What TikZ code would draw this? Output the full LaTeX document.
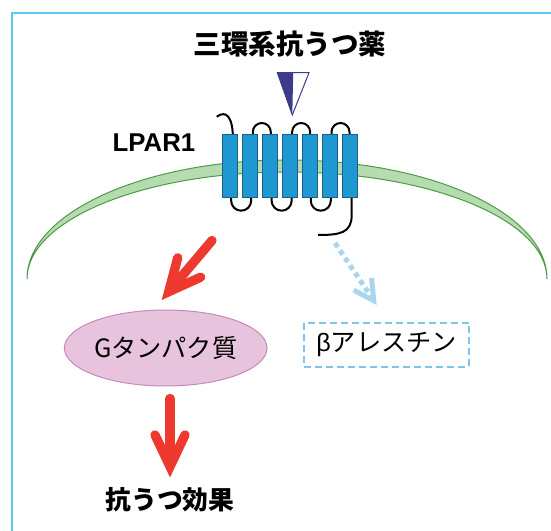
\documentclass[tikz,border=0pt]{standalone}
\usepackage{fontspec}
\setmainfont{Liberation Sans}
\newfontfamily\jp{Noto Sans CJK JP}
\usetikzlibrary{arrows.meta,shapes.geometric}

\definecolor{framecol}{RGB}{90,200,240}
\definecolor{memfill}{RGB}{181,220,174}
\definecolor{memedge}{RGB}{78,154,72}
\definecolor{tmblue}{RGB}{31,152,210}
\definecolor{tmedge}{RGB}{26,95,138}
\definecolor{drugdark}{RGB}{62,58,140}
\definecolor{sigred}{RGB}{238,58,46}
\definecolor{arrblue}{RGB}{169,213,239}
\definecolor{boxblue}{RGB}{127,196,234}
\definecolor{gpfill}{RGB}{232,195,222}
\definecolor{gpedge}{RGB}{197,138,185}

\tikzset{
  tmbox/.style={draw=tmedge, fill=tmblue, line width=0.3mm, inner sep=0,
    minimum width=4.5mm, minimum height=19mm},
  loopline/.style={black, line width=0.6mm},
  sigarrow/.style={sigred, line width=2.8mm, line cap=round,
    -{Straight Barb[length=9.5mm, width=9mm, line cap=round, line join=miter]}},
  betaarrow/.style={arrblue, line width=1.5mm, dash pattern=on 1.5mm off 1.2mm,
    -{Straight Barb[length=6mm, width=6.5mm, line join=miter]}},
}

\begin{document}
\begin{tikzpicture}[x=0.03cm,y=-0.03cm]
\useasboundingbox (0,0) rectangle (551,531);

% frame
\draw[framecol, line width=0.5mm] (12,531) -- (12,12.7) -- (551,12.7);

% drug
\node[font=\jp\bfseries\fontsize{23.5}{28}\selectfont, inner sep=0] (drug) at (290,44) {三環系抗うつ薬};
\fill[drugdark] (277.3,72.7) -- (293.2,72.7) -- (292.3,115) -- cycle;
\draw[drugdark, line width=0.3mm, line join=miter] (277.3,72.7) -- (309,72.7) -- (292.3,115) -- cycle;

% membrane
\draw[draw=memedge, fill=memfill, line width=0.3mm]
  (27,279) arc[start angle=180, end angle=360, x radius=260, y radius=119]
  arc[start angle=360, end angle=180, x radius=260, y radius=107] -- cycle;

% loops of the receptor
\draw[loopline] (216.7,116.7) .. controls (226,110) and (233,116) .. (233,140);
\foreach \cx in {261.8,301.15,340.5}
  \draw[loopline] (\cx-9,140) -- (\cx-9,132) arc[start angle=180, end angle=360, radius=9] -- (\cx+9,140);
\foreach \cx in {241.15,281.65,320.8}
  \draw[loopline] (\cx-10,190) -- (\cx-10,200.7) arc[start angle=180, end angle=0, radius=10] -- (\cx+10,190);
\draw[loopline] (351.7,190) -- (351.7,215) .. controls (351.7,233) and (340,235) .. (318,235);

% seven helices
\foreach \i in {1,...,7}
  \node[tmbox] (tm\i) at (210.2+20*\i,166) {};

\node[font=\bfseries\fontsize{22}{26}\selectfont, inner sep=0] (lpar) at (154,143) {LPAR1};

% downstream
\node[ellipse, draw=gpedge, fill=gpfill, line width=0.3mm, inner sep=0,
  minimum width=57mm, minimum height=22.8mm,
  font=\jp\fontsize{21.5}{26}\selectfont] (gprot) at (165.7,348) {Gタンパク質};
\node[draw=boxblue, line width=0.6mm, dash pattern=on 2.1mm off 1.2mm, inner sep=0,
  minimum width=49.4mm, minimum height=13.2mm,
  font=\jp\fontsize{21.5}{26}\selectfont] (arrestin) at (386.7,344.7) {{\rmfamily β}アレスチン};
\node[font=\jp\bfseries\fontsize{22}{26}\selectfont, inner sep=0] (effect) at (170,500) {抗うつ効果};

\coordinate (gstart) at (212,240.5);
\coordinate (gend) at (161.7,300);
\coordinate (bstart) at (335,243);
\coordinate (bend) at (376.7,305);

\draw[sigarrow] (gstart) -- (gend);
\draw[sigarrow, shorten <=3.6mm, shorten >=3mm] (effect |- gprot.south) -- (effect.north);
\draw[betaarrow] (bstart) -- (bend);

\end{tikzpicture}
\end{document}
